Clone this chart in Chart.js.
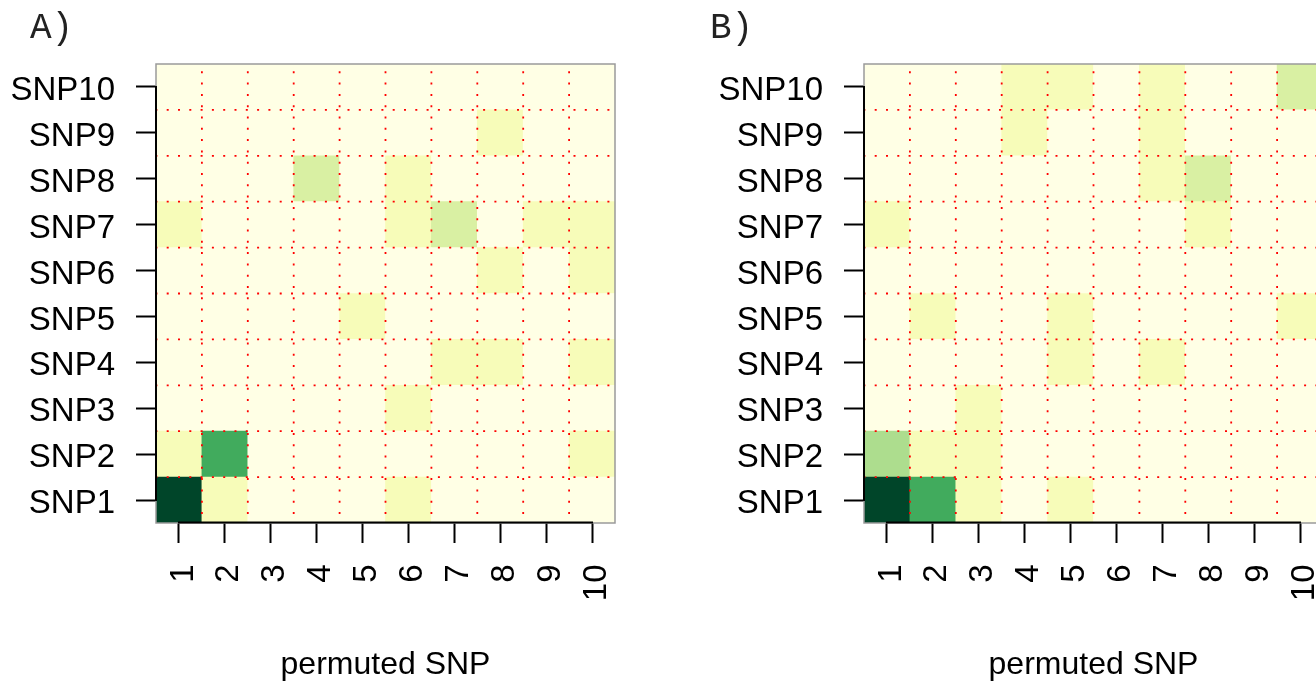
<!DOCTYPE html>
<html><head><meta charset="utf-8">
<script src="https://cdn.jsdelivr.net/npm/chart.js@4.4.1/dist/chart.umd.min.js"></script>
<style>
html,body{margin:0;padding:0;background:#fff;overflow:hidden;width:1316px;height:681px;}
.panel{position:absolute;top:0;width:708px;height:681px;}
</style></head><body>
<div class="panel" style="left:0"><canvas id="cA" width="708" height="681"></canvas></div>
<div class="panel" style="left:708px"><canvas id="cB" width="708" height="681"></canvas></div>
<script>
// ---- data ----
const permutedSNPs = ['1','2','3','4','5','6','7','8','9','10'];
const snpLabels = ['SNP1','SNP2','SNP3','SNP4','SNP5','SNP6','SNP7','SNP8','SNP9','SNP10'];
const xAxisTitle = 'permuted SNP';
const panelTitles = ['A)', 'B)'];
// YlGn colour classes 0..8
const colorScale = ['#FFFFE5','#F7FCB9','#D9F0A3','#ADDD8E','#78C679','#41AB5D','#238443','#006837','#004529'];
// rows: SNP1..SNP10 ; columns: permuted SNP 1..10 (colour class)
const gridA = [
  [8,1,0,0,0,1,0,0,0,0],
  [1,5,0,0,0,0,0,0,0,1],
  [0,0,0,0,0,1,0,0,0,0],
  [0,0,0,0,0,0,1,1,0,1],
  [0,0,0,0,1,0,0,0,0,0],
  [0,0,0,0,0,0,0,1,0,1],
  [1,0,0,0,0,1,2,0,1,1],
  [0,0,0,2,0,1,0,0,0,0],
  [0,0,0,0,0,0,0,1,0,0],
  [0,0,0,0,0,0,0,0,0,0]
];
const gridB = [
  [8,5,1,0,1,0,0,0,0,0],
  [3,1,1,0,0,0,0,0,0,0],
  [0,0,1,0,0,0,0,0,0,0],
  [0,0,0,0,1,0,1,0,0,0],
  [0,1,0,0,1,0,0,0,0,1],
  [0,0,0,0,0,0,0,0,0,0],
  [1,0,0,0,0,0,0,1,0,0],
  [0,0,0,0,0,0,1,2,0,0],
  [0,0,0,1,0,0,1,0,0,0],
  [0,0,0,1,1,0,1,0,0,2]
];

Chart.defaults.font.family = "'Liberation Sans', Arial, sans-serif";
Chart.defaults.color = '#000';

const overlay = {
  id: 'overlay',
  afterDatasetsDraw(chart, args, opts) {
    const {ctx, chartArea: a, scales: {x, y}} = chart;
    ctx.save();
    ctx.beginPath(); ctx.rect(a.left, a.top, a.right - a.left, a.bottom - a.top); ctx.clip();
    ctx.strokeStyle = '#ff0000'; ctx.lineWidth = 1.8; ctx.setLineDash([2, 9.3]);
    for (let i = 0; i < permutedSNPs.length - 1; i++) {
      const px = (x.getPixelForValue(i) + x.getPixelForValue(i + 1)) / 2;
      ctx.lineDashOffset = 4;
      ctx.beginPath(); ctx.moveTo(px, a.top); ctx.lineTo(px, a.bottom); ctx.stroke();
    }
    for (let v = 1; v < snpLabels.length; v++) {
      const py = y.getPixelForValue(v + 0.5);
      ctx.lineDashOffset = 0.6;
      ctx.beginPath(); ctx.moveTo(a.left, py); ctx.lineTo(a.right, py); ctx.stroke();
    }
    ctx.restore();
    ctx.save();
    ctx.strokeStyle = '#9a9a9a'; ctx.lineWidth = 1.5;
    ctx.strokeRect(a.left, a.top, a.right - a.left, a.bottom - a.top);
    ctx.strokeStyle = '#000'; ctx.lineWidth = 2;
    ctx.beginPath();
    ctx.moveTo(x.getPixelForValue(0) - 1, a.bottom - 0.5);
    ctx.lineTo(x.getPixelForValue(permutedSNPs.length - 1) + 1, a.bottom - 0.5);
    ctx.stroke();
    ctx.beginPath();
    ctx.moveTo(a.left, y.getPixelForValue(snpLabels.length) - 1);
    ctx.lineTo(a.left, y.getPixelForValue(1) + 1);
    ctx.stroke();
    // panel title
    ctx.fillStyle = '#222';
    ctx.font = "36px 'Liberation Mono', 'Courier New', monospace";
    ctx.textAlign = 'left'; ctx.textBaseline = 'alphabetic';
    ctx.fillText(opts.title, opts.titleX, 38);
    ctx.restore();
  }
};

function makeChart(id, grid, title, titleX) {
  const datasets = snpLabels.map((lab, r) => ({
    label: lab,
    data: permutedSNPs.map(() => [r + 0.5, r + 1.5]),
    backgroundColor: grid[r].map(v => colorScale[v]),
    borderWidth: 0,
    grouped: false,
    barPercentage: 1,
    categoryPercentage: 1
  }));
  return new Chart(document.getElementById(id), {
    type: 'bar',
    data: {labels: permutedSNPs, datasets},
    options: {
      responsive: false,
      animation: false,
      events: [],
      layout: {padding: {left: 0, right: 93, top: 64, bottom: 0}},
      plugins: {
        legend: {display: false},
        tooltip: {enabled: false},
        title: {display: false},
        overlay: {title: title, titleX: titleX}
      },
      scales: {
        x: {
          type: 'category', offset: true,
          grid: {display: true, offset: false, drawOnChartArea: false, drawTicks: true, tickLength: 20, tickWidth: 2, tickColor: '#000'},
          border: {display: false},
          ticks: {font: {size: 33}, minRotation: 90, maxRotation: 90, autoSkip: false, padding: 21.5, labelOffset: 4.5, color: '#000'},
          title: {display: true, text: xAxisTitle, font: {size: 32, lineHeight: 1}, padding: {top: 0, bottom: 0}, color: '#000'},
          afterFit: s => { s.height = 158; }
        },
        y: {
          type: 'linear', min: 0.5, max: 10.5, beginAtZero: false,
          grid: {display: true, drawOnChartArea: false, drawTicks: true, tickLength: 20, tickWidth: 2, tickColor: '#000'},
          border: {display: false},
          afterBuildTicks: s => { s.ticks = snpLabels.map((_, i) => ({value: i + 1})); },
          ticks: {font: {size: 33}, padding: 21, labelOffset: 4, color: '#000', callback: v => snpLabels[v - 1]},
          afterFit: s => { s.width = 156; }
        }
      }
    },
    plugins: [overlay]
  });
}
makeChart('cA', gridA, panelTitles[0], 30);
makeChart('cB', gridB, panelTitles[1], 2);
</script>
</body></html>
